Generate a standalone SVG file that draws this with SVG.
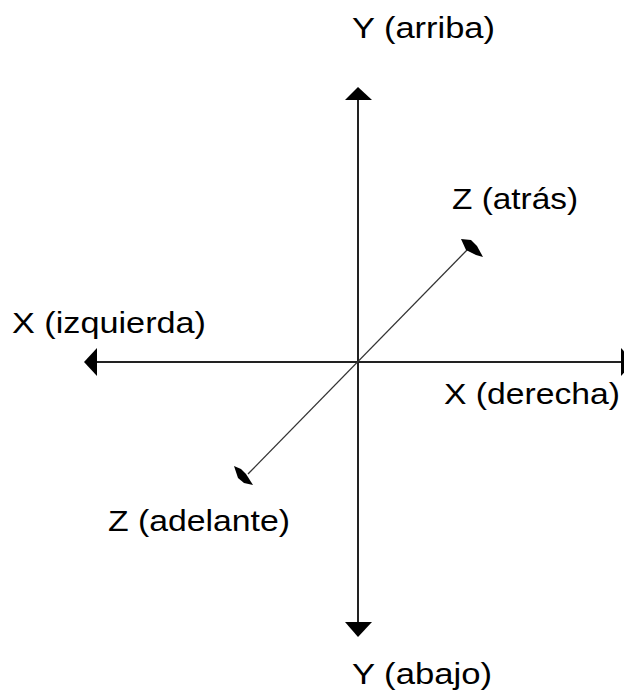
<svg xmlns="http://www.w3.org/2000/svg" width="624" height="693" viewBox="0 0 624 693">
<style>
.ax{stroke:#222;stroke-width:2;fill:none}
.dg{stroke:#333;stroke-width:1.3;fill:none}
.hd{fill:#000}
.lb{font-family:"Liberation Sans",Arial,sans-serif;font-size:29px;fill:#000}
</style>
<rect width="624" height="693" fill="#fff"/>
<g id="connectors">
<line class="ax" x1="358" y1="98" x2="358" y2="624"/>
<line class="ax" x1="95" y1="362" x2="622" y2="362"/>
<line class="dg" x1="248" y1="474" x2="468" y2="249"/>
<polygon class="hd" points="358,87 345,100 372,100"/>
<polygon class="hd" points="358,637 345,622 372,622"/>
<polygon class="hd" points="84,362 97,348 97,376"/>
<polygon class="hd" points="634,362 621,348 621,376"/>
<polygon class="hd" points="461,239 471,240 477,246 483,257 476,255 466,250"/>
<polygon class="hd" points="234,466 241,469 246,474 253,485 244,483 238,478"/>
</g>
<g id="y-up"><text class="lb" x="352" y="38" textLength="143" lengthAdjust="spacingAndGlyphs">Y (arriba)</text></g>
<g id="z-back"><text class="lb" x="452" y="209" textLength="126" lengthAdjust="spacingAndGlyphs">Z (atrás)</text></g>
<g id="x-left"><text class="lb" x="12" y="333" textLength="194" lengthAdjust="spacingAndGlyphs">X (izquierda)</text></g>
<g id="x-right"><text class="lb" x="444" y="404" textLength="176" lengthAdjust="spacingAndGlyphs">X (derecha)</text></g>
<g id="z-front"><text class="lb" x="108" y="531" textLength="182" lengthAdjust="spacingAndGlyphs">Z (adelante)</text></g>
<g id="y-down"><text class="lb" x="352" y="684" textLength="140" lengthAdjust="spacingAndGlyphs">Y (abajo)</text></g>
</svg>
